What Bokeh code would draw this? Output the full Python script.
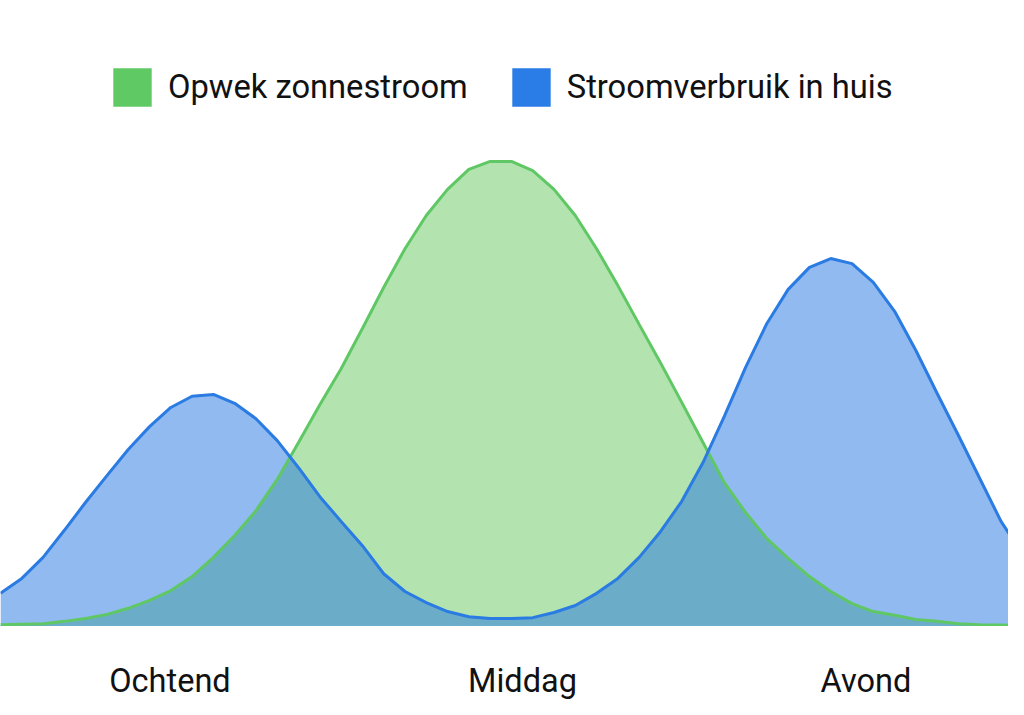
from bokeh.plotting import figure
from bokeh.models import Range1d, Legend, LegendItem, ColumnDataSource
from bokeh.layouts import column
from bokeh.core.properties import value
from bokeh.embed import file_html
from bokeh.resources import INLINE

# half-hour steps across the day (index 0..48)
slots = list(range(49))

# solar generation (relative, peak = 100)
opwek = [0.4, 0.5, 0.6, 1.1, 1.7, 2.6, 3.9, 5.6, 7.7, 10.7, 14.8, 19.5, 24.8, 31.5, 39.4,
         47.5, 55.2, 63.8, 72.6, 80.9, 88.0, 93.6, 97.9, 99.6, 99.6, 97.6, 93.6, 88.0,
         80.9, 73.0, 64.7, 56.5, 48.0, 39.4, 30.8, 24.4, 18.8, 14.6, 10.7, 7.5, 4.9, 3.2,
         2.4, 1.5, 1.1, 0.6, 0.4, 0.3, 0.2]

# household consumption (same relative scale)
verbruik = [7.1, 10.3, 14.8, 20.6, 26.6, 32.3, 37.9, 42.8, 46.9, 49.3, 49.7, 47.8, 44.5,
            39.8, 34.0, 27.8, 22.5, 17.3, 11.3, 7.5, 5.1, 3.2, 2.1, 1.7, 1.7, 1.9, 3.0,
            4.5, 7.1, 10.3, 14.8, 20.3, 26.8, 35.1, 45.0, 55.5, 64.9, 72.2, 76.9, 78.8,
            77.7, 73.7, 67.5, 59.1, 49.9, 40.9, 31.7, 22.5, 15.6]

tick_labels = ["Ochtend", "Middag", "Avond"]
tick_positions = [7.96, 24.52, 40.65]

series_names = ["Opwek zonnestroom", "Stroomverbruik in huis"]

FONT = "Roboto"
GREEN_LINE = "#5fc864"
GREEN_FILL = "#67c961"
BLUE_LINE = "#2a7be2"
BLUE_FILL = "#2375e1"

xr = Range1d(0, 47.35)

p = figure(width=1008, height=626, output_backend="svg", toolbar_location=None,
           x_range=xr, y_range=Range1d(0, 134.05),
           x_axis_location=None, y_axis_location=None,
           min_border_left=0, min_border_right=0,
           min_border_top=0, min_border_bottom=0)

p.outline_line_color = None
p.xgrid.grid_line_color = None
p.ygrid.grid_line_color = None
p.background_fill_color = "white"
p.border_fill_color = "white"

# hidden solid copies, used only for the legend swatches
g_sw = p.varea(x=slots, y1=0, y2=opwek, fill_color="#5fc964", visible=False)
b_sw = p.varea(x=slots, y1=0, y2=verbruik, fill_color="#2a7de6", visible=False)

p.varea(x=slots, y1=0, y2=opwek, fill_color=GREEN_FILL, fill_alpha=0.5)
p.varea(x=slots, y1=0, y2=verbruik, fill_color=BLUE_FILL, fill_alpha=0.5)
p.line(x=slots, y=opwek, line_color=GREEN_LINE, line_width=3)
p.line(x=slots, y=verbruik, line_color=BLUE_LINE, line_width=3)

legend = Legend(items=[LegendItem(label=series_names[0], renderers=[g_sw]),
                       LegendItem(label=series_names[1], renderers=[b_sw])],
                orientation="horizontal", location=(108, 515),
                glyph_width=48, glyph_height=48, label_standoff=12, spacing=39,
                padding=0, margin=0, border_line_color=None, background_fill_alpha=0,
                label_text_font=FONT, label_text_font_size="32.7px",
                label_text_color="#111111")
p.add_layout(legend)

# strip below the chart carrying the time-of-day category labels
q = figure(width=1008, height=73, output_backend="svg", toolbar_location=None,
           x_range=xr, y_range=Range1d(0, 73),
           x_axis_location=None, y_axis_location=None,
           min_border_left=0, min_border_right=0,
           min_border_top=0, min_border_bottom=0)
q.outline_line_color = None
q.xgrid.grid_line_color = None
q.ygrid.grid_line_color = None
q.background_fill_color = "white"
q.border_fill_color = "white"

tick_src = ColumnDataSource(dict(x=tick_positions, text=tick_labels))
q.text(x="x", y=19, text="text", source=tick_src,
       text_align="center", text_baseline="middle",
       text_font=value(FONT), text_font_size="32.5px", text_color="#111111")

layout = column(p, q, spacing=0)
open("out.html", "w").write(file_html(layout, INLINE))
